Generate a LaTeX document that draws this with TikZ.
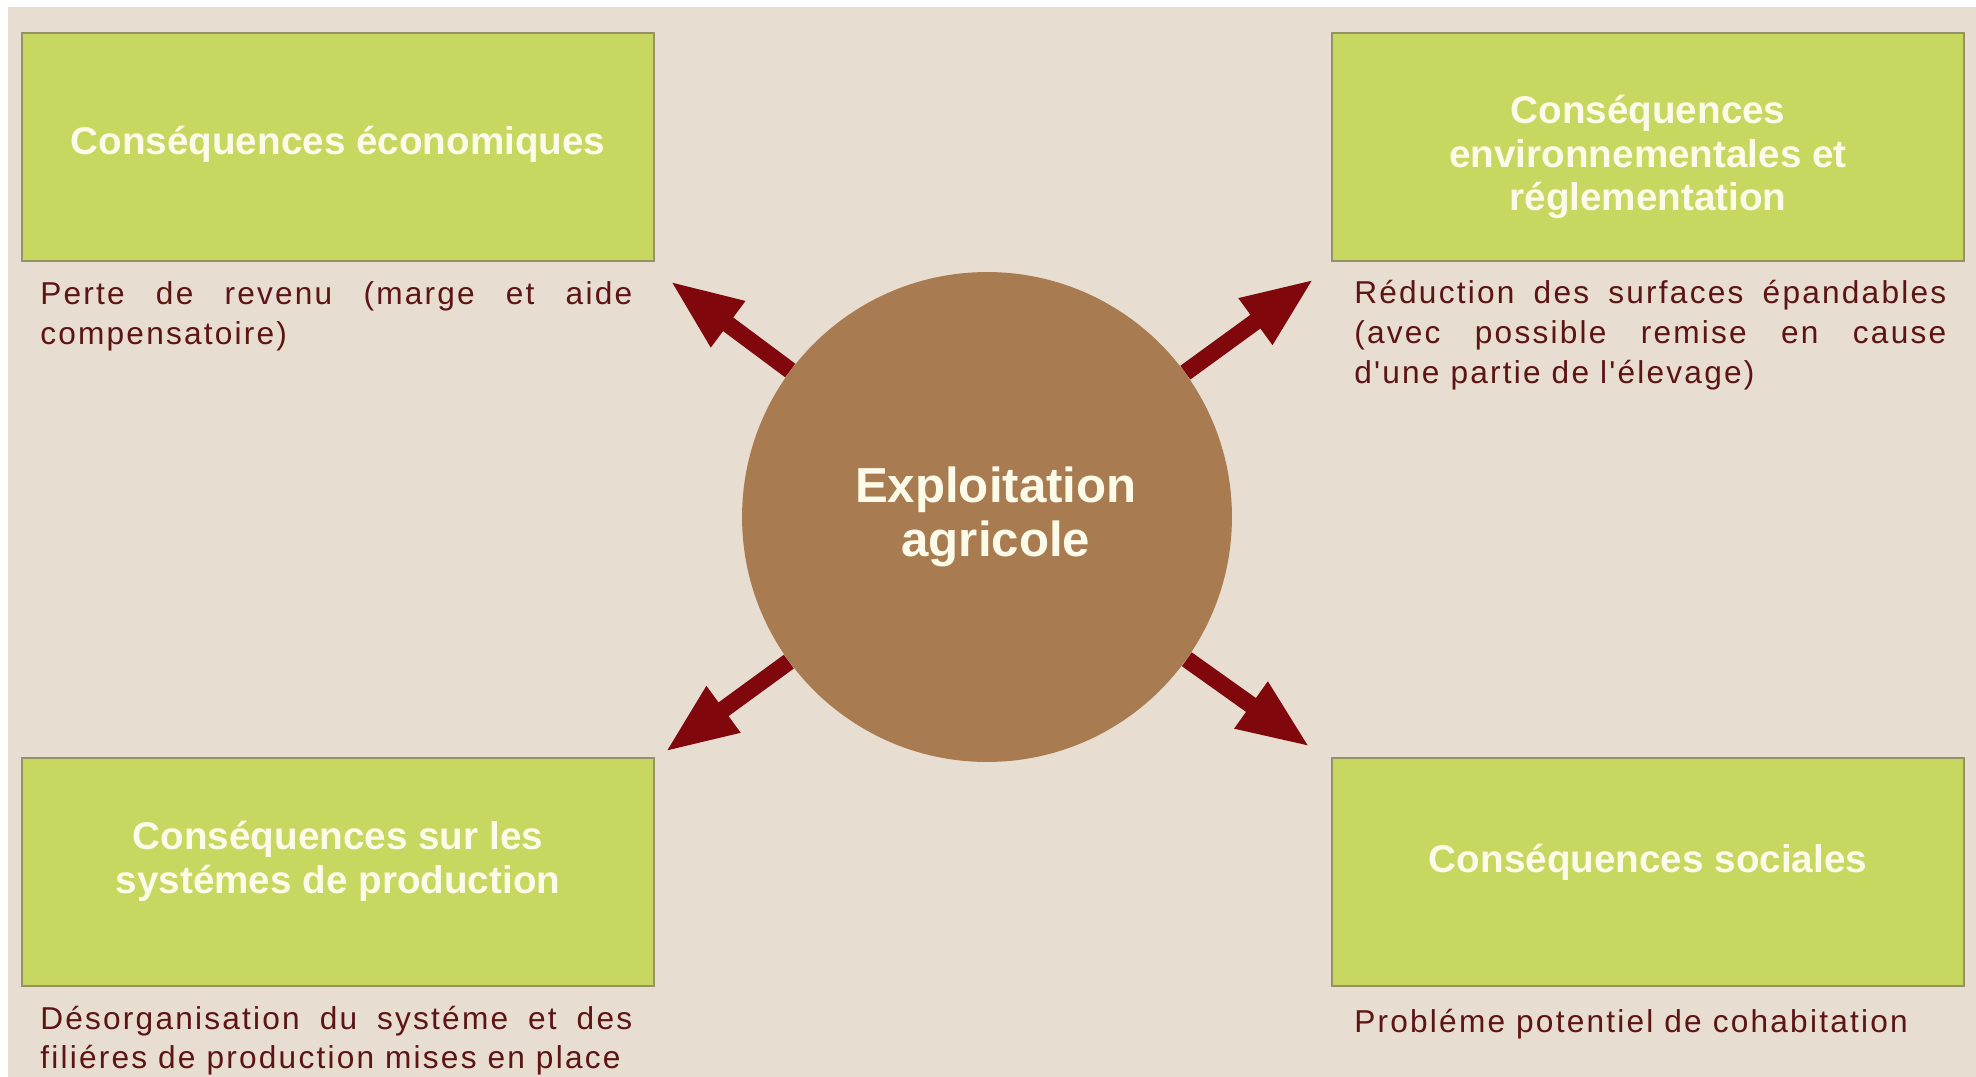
\documentclass[tikz,border=0pt]{standalone}
\usepackage{fontspec}
\setmainfont{Liberation Sans}
\newfontfamily\descfont[LetterSpace=7]{Liberation Sans}
\usetikzlibrary{calc,arrows.meta}
\definecolor{fond}{RGB}{232,221,209}
\definecolor{vert}{RGB}{200,215,96}
\definecolor{bordvert}{RGB}{150,146,102}
\definecolor{brun}{RGB}{168,124,80}
\definecolor{rouge}{RGB}{128,8,12}
\definecolor{texte}{RGB}{92,20,20}
\definecolor{creme}{RGB}{252,250,232}

\begin{document}
\begin{tikzpicture}[x=0.02cm, y=-0.02cm,
  boite/.style={draw=bordvert, line width=1.2pt, fill=vert, minimum width=12.64cm, minimum height=4.56cm, inner sep=0pt},
  titre/.style={text=creme, font=\bfseries\fontsize{22}{25}\selectfont, align=center, inner sep=0pt},
  desc/.style={text=texte, font=\descfont\fontsize{18}{22.7}\selectfont, text width=11.84cm, align=justify, inner sep=0pt, anchor=base west},
  fleche/.style={draw=rouge, line width=0.34cm, -{Triangle[length=1.45cm, width=1.05cm]}}]
\useasboundingbox (0,0) rectangle (1976,1077);
\fill [white] (0,0) rectangle (1976,1077);
\fill [fond] (8,7) rectangle (1976,1077);

\node [boite] (eco) at (338,147) {};
\node [boite] (env) at (1648,147) {};
\node [boite] (prod) at (338,872) {};
\node [boite] (soc) at (1648,872) {};

\node [titre] (ecoT) at ($(eco)+(0,-3)$) {Conséquences économiques};
\node [titre] (envT) at ($(env)+(0,10)$) {Conséquences\\environnementales et\\réglementation};
\node [titre] (prodT) at ($(prod)+(0,-11)$) {Conséquences sur les\\systémes de production};
\node [titre] (socT) at ($(soc)+(0,-10)$) {Conséquences sociales};

\node [desc] (ecoD) at (40,305) {Perte de revenu (marge et aide\linebreak compensatoire)};
\node [desc] (envD) at (1354,304) {Réduction des surfaces épandables\linebreak (avec possible remise en cause\linebreak d'une partie de l'élevage)};
\node [desc] (prodD) at (40,1029) {Désorganisation du systéme et des\linebreak filiéres de production mises en place};
\node [desc] (socD) at (1354,1032) {Probléme potentiel de cohabitation};

\node [circle, fill=brun, minimum size=9.8cm, text=creme, align=center,
  font=\bfseries\fontsize{28}{31}\selectfont] (expl) at (987,517) {\hspace*{10pt}Exploitation\\\hspace*{10pt}agricole};

\coordinate (pTL) at (670,281);
\coordinate (pTR) at (1314,279);
\coordinate (pBL) at (665,752);
\coordinate (pBR) at (1310,747);
\draw [fleche] (expl) -- (pTL);
\draw [fleche] (expl) -- (pTR);
\draw [fleche] (expl) -- (pBL);
\draw [fleche] (expl) -- (pBR);
\end{tikzpicture}
\end{document}
